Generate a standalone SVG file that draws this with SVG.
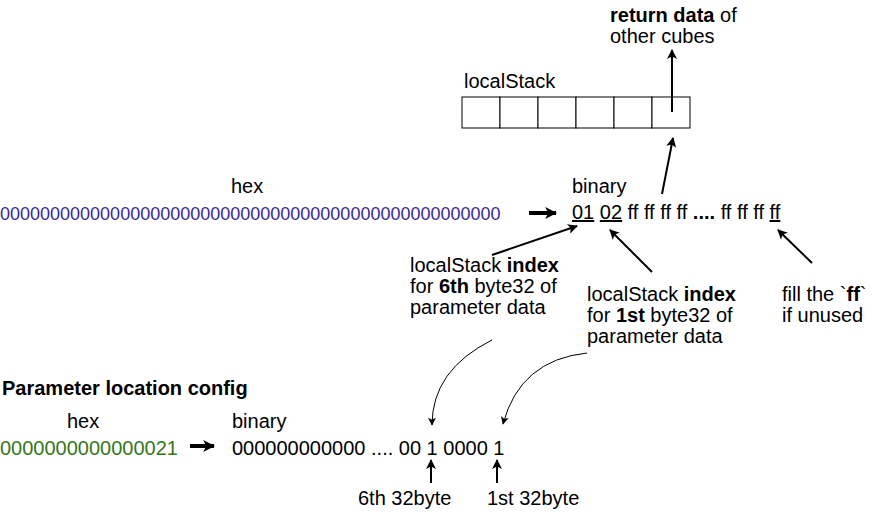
<svg xmlns="http://www.w3.org/2000/svg" width="892" height="519" viewBox="0 0 892 519">
<style>
text{font-family:"Liberation Sans",Arial,Helvetica,sans-serif;font-size:20px;fill:#000}
.b{font-weight:bold}
.blue{fill:#37299a;font-size:18px}
.green{fill:#38761d}
.u{text-decoration:underline}
.cell{fill:#fff;stroke:#000;stroke-width:1}
.ln{fill:none;stroke:#000;stroke-width:2}
.thin{fill:none;stroke:#000;stroke-width:1}
.thick{fill:none;stroke:#000;stroke-width:4}
</style>
<defs>
<marker id="ah" viewBox="0 0 10 10" refX="9" refY="5" markerWidth="11" markerHeight="10" orient="auto" markerUnits="userSpaceOnUse"><path d="M0,0 L10,5 L0,10 L2.5,5 z" fill="#000"/></marker>
<marker id="ahs" viewBox="0 0 10 10" refX="9" refY="5" markerWidth="9" markerHeight="8" orient="auto" markerUnits="userSpaceOnUse"><path d="M0,0 L10,5 L0,10 L2.5,5 z" fill="#000"/></marker>
<marker id="ahb" viewBox="0 0 10 10" refX="9" refY="5" markerWidth="12" markerHeight="12" orient="auto" markerUnits="userSpaceOnUse"><path d="M0,0 L10,5 L0,10 L2.5,5 z" fill="#000"/></marker>
</defs>
<rect width="892" height="519" fill="#fff"/>
<g id="return-label">
<text x="610" y="22"><tspan class="b">return data</tspan> of</text>
<text x="610" y="43">other cubes</text>
</g>
<g id="localstack">
<text x="464" y="88">localStack</text>
<rect class="cell" x="462" y="97" width="38" height="31"/>
<rect class="cell" x="500" y="97" width="38" height="31"/>
<rect class="cell" x="538" y="97" width="38" height="31"/>
<rect class="cell" x="576" y="97" width="38" height="31"/>
<rect class="cell" x="614" y="97" width="38" height="31"/>
<rect class="cell" x="652" y="97" width="38" height="31"/>
</g>
<g id="hex-label"><text x="231" y="193">hex</text></g>
<g id="hex-value"><text class="blue" x="0" y="220">00000000000000000000000000000000000000000000000000</text></g>
<g id="binary-label"><text x="572" y="193">binary</text></g>
<g id="binary-value"><text x="572" y="219"><tspan class="u">01</tspan> <tspan class="u">02</tspan> ff ff ff ff <tspan class="b">....</tspan> ff ff ff <tspan class="u">ff</tspan></text></g>
<g id="label-6th">
<text x="410" y="272">localStack <tspan class="b">index</tspan></text>
<text x="410" y="293">for <tspan class="b">6th</tspan> byte32 of</text>
<text x="410" y="314">parameter data</text>
</g>
<g id="label-1st">
<text x="587" y="301">localStack <tspan class="b">index</tspan></text>
<text x="587" y="322">for <tspan class="b">1st</tspan> byte32 of</text>
<text x="587" y="343">parameter data</text>
</g>
<g id="label-fill">
<text x="782" y="301">fill the `<tspan class="b">ff</tspan>`</text>
<text x="782" y="322">if unused</text>
</g>
<g id="param-title"><text class="b" x="2" y="395">Parameter location config</text></g>
<g id="param-hex-label"><text x="67" y="428">hex</text></g>
<g id="param-binary-label"><text x="232" y="428">binary</text></g>
<g id="param-hex"><text class="green" x="0" y="455">0000000000000021</text></g>
<g id="param-binary"><text x="232" y="455">000000000000 .... 00 1 0000 1</text></g>
<g id="label-6th-32"><text x="358" y="505">6th 32byte</text></g>
<g id="label-1st-32"><text x="487" y="505">1st 32byte</text></g>
<g id="connectors">
<line class="ln" x1="672" y1="112" x2="672" y2="50" marker-end="url(#ah)"/>
<line class="ln" x1="662" y1="194" x2="673" y2="138" marker-end="url(#ah)"/>
<line class="thick" x1="529" y1="213" x2="556" y2="213" marker-end="url(#ahb)"/>
<line class="ln" x1="492" y1="255" x2="577" y2="226" marker-end="url(#ah)"/>
<line class="ln" x1="652" y1="272" x2="610" y2="230" marker-end="url(#ah)"/>
<line class="ln" x1="812" y1="263" x2="778" y2="230" marker-end="url(#ah)"/>
<path class="thin" d="M492,340 Q432,370 432,425" marker-end="url(#ahs)"/>
<path class="thin" d="M587,353 Q520,360 503,424" marker-end="url(#ahs)"/>
<line class="thick" x1="190" y1="446" x2="214" y2="446" marker-end="url(#ahb)"/>
<line class="ln" x1="431" y1="483" x2="431" y2="460" marker-end="url(#ah)"/>
<line class="ln" x1="497" y1="483" x2="497" y2="460" marker-end="url(#ah)"/>
</g>
</svg>
